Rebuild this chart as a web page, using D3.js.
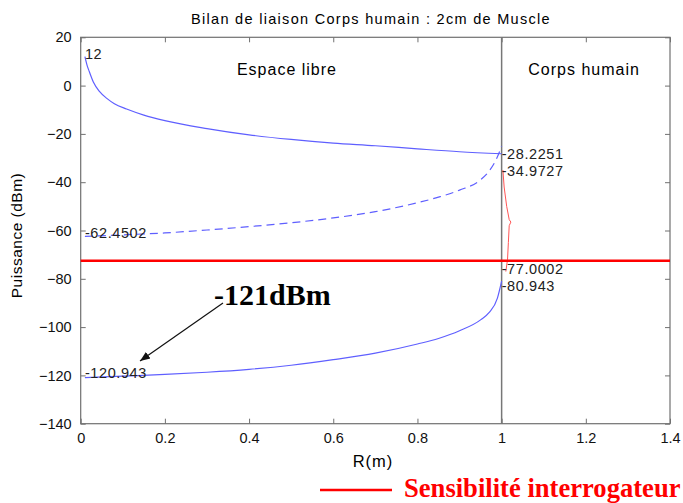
<!DOCTYPE html>
<html><head><meta charset="utf-8">
<script src="https://cdn.jsdelivr.net/npm/d3@7"></script>
<style>body{margin:0;background:#fff}svg{display:block}</style>
</head><body>
<svg id="c" width="683" height="503"></svg>
<script>
// ---- data ----
const xTicks = [0, 0.2, 0.4, 0.6, 0.8, 1, 1.2, 1.4];
const yTicks = [20, 0, -20, -40, -60, -80, -100, -120, -140];
const upperR = [0.01, 0.015, 0.02, 0.03, 0.045, 0.062, 0.08, 0.109, 0.15, 0.2, 0.3, 0.4, 0.5, 0.6, 0.7, 0.8, 0.9, 1.0];
const upperP = [12, 8.5, 6, 1.5, -2.5, -5.3, -7.5, -9.7, -12.2, -14.5, -17.8, -20.4, -22.3, -23.8, -24.9, -26.2, -27.4, -28.2251];
const dashedR = [0.01, 0.1, 0.2, 0.3, 0.4, 0.5, 0.6, 0.7, 0.8, 0.85, 0.9, 0.95, 0.97, 0.99, 1.0];
const dashedP = [-62.4502, -61.8, -61.0, -59.8, -58.4, -56.8, -54.8, -52.2, -48.5, -46.2, -43.3, -39, -35.5, -29.5, -25];
const lowerR = [0.01, 0.1, 0.2, 0.3, 0.4, 0.5, 0.6, 0.7, 0.8, 0.85, 0.9, 0.95, 0.97, 0.99, 1.0];
const lowerP = [-120.943, -120.3, -119.6, -118.7, -117.5, -115.8, -113.5, -110.8, -107, -104.7, -101.5, -97, -94, -88, -80.943];
const bodyR = [1.003, 1.006, 1.012, 1.018, 1.022, 1.018, 1.016, 1.014, 1.010];
const bodyP = [-34.9727, -42, -50, -55.5, -56.5, -58, -65, -72, -77.0002];
const sensitivity = -72.5;
const boundaryR = 1;
const pointLabels = [
  {r: 0.01, p: 12, t: "12", dy: -3},
  {r: 0.01, p: -62.4502, t: "-62.4502", dy: -3},
  {r: 0.01, p: -120.943, t: "-120.943", dy: -5},
  {r: 1.0, p: -28.2251, t: "-28.2251", dy: 0},
  {r: 1.0, p: -34.9727, t: "-34.9727", dy: 1},
  {r: 1.0, p: -77.0002, t: "-77.0002", dy: -3},
  {r: 1.0, p: -80.943, t: "-80.943", dy: 5}
];
const titleText = "Bilan de liaison Corps humain : 2cm de Muscle";

// ---- layout ----
const svg = d3.select("#c");
const L = 80.7, R = 670, T = 37.3, B = 423.7;
const x = d3.scaleLinear().domain([0, 1.4]).range([L, R]);
const y = d3.scaleLinear().domain([-140, 20]).range([B, T]);
const axisCol = "#707070";
const font = "Arial, 'Liberation Sans', sans-serif";

// frame
svg.append("rect").attr("x", L).attr("y", T).attr("width", R - L).attr("height", B - T)
  .attr("fill", "none").attr("stroke", axisCol).attr("stroke-width", 1.2);

// axes (ticks inward)
const gb = svg.append("g").attr("transform", `translate(0,${B})`)
  .call(d3.axisBottom(x).tickValues(xTicks).tickSize(-5).tickPadding(9).tickFormat(d3.format("")));
const gt = svg.append("g").attr("transform", `translate(0,${T})`)
  .call(d3.axisTop(x).tickValues(xTicks).tickSize(-5).tickFormat(""));
const gl = svg.append("g").attr("transform", `translate(${L},0)`)
  .call(d3.axisLeft(y).tickValues(yTicks).tickSize(-5).tickPadding(9));
const gr = svg.append("g").attr("transform", `translate(${R},0)`)
  .call(d3.axisRight(y).tickValues(yTicks).tickSize(-5).tickFormat(""));
[gb, gt, gl, gr].forEach(g => {
  g.select(".domain").remove();
  g.selectAll(".tick line").attr("stroke", axisCol);
  g.selectAll("text").attr("font-family", font).attr("font-size", 14.5).attr("fill", "#111");
});

// boundary line
svg.append("line").attr("x1", x(boundaryR)).attr("x2", x(boundaryR)).attr("y1", T).attr("y2", B)
  .attr("stroke", "#777").attr("stroke-width", 1.5);

const line = d3.line().x(d => x(d[0])).y(d => y(d[1])).curve(d3.curveMonotoneX);
const lineN = d3.line().x(d => x(d[0])).y(d => y(d[1])).curve(d3.curveLinear);
const blue = "#5f5fff";

svg.append("path").datum(d3.zip(upperR, upperP)).attr("d", line)
  .attr("fill", "none").attr("stroke", blue).attr("stroke-width", 1.2);
svg.append("path").datum(d3.zip(dashedR, dashedP)).attr("d", line)
  .attr("fill", "none").attr("stroke", blue).attr("stroke-width", 1.2).attr("stroke-dasharray", "8,5");
svg.append("path").datum(d3.zip(lowerR, lowerP)).attr("d", line)
  .attr("fill", "none").attr("stroke", blue).attr("stroke-width", 1.2);
svg.append("path").datum(d3.zip(bodyR, bodyP)).attr("d", lineN)
  .attr("fill", "none").attr("stroke", "#ff5555").attr("stroke-width", 1);

// sensitivity line
svg.append("line").attr("x1", L).attr("x2", R).attr("y1", y(sensitivity)).attr("y2", y(sensitivity))
  .attr("stroke", "#ff0000").attr("stroke-width", 2.5);

// point labels
svg.selectAll("text.pl").data(pointLabels).enter().append("text").attr("class", "pl")
  .attr("x", d => x(d.r)).attr("y", d => y(d.p) + d.dy)
  .attr("dominant-baseline", "central").attr("letter-spacing", 0.6)
  .attr("font-family", font).attr("font-size", 14.5).attr("fill", "#222").text(d => d.t);

// region labels
svg.append("text").attr("x", x(0.49)).attr("y", y(6.5)).attr("text-anchor", "middle")
  .attr("dominant-baseline", "central").attr("letter-spacing", 1)
  .attr("font-family", font).attr("font-size", 16).text("Espace libre");
svg.append("text").attr("x", x(1.196)).attr("y", y(6.5)).attr("text-anchor", "middle")
  .attr("dominant-baseline", "central").attr("letter-spacing", 1)
  .attr("font-family", font).attr("font-size", 16).text("Corps humain");

// title & axis labels
svg.append("text").attr("x", 371).attr("y", 24).attr("text-anchor", "middle").attr("letter-spacing", 1.3)
  .attr("font-family", font).attr("font-size", 14.5).text(titleText);
svg.append("text").attr("x", 373).attr("y", 467).attr("text-anchor", "middle").attr("letter-spacing", 1)
  .attr("font-family", font).attr("font-size", 16.5).text("R(m)");
svg.append("text").attr("transform", `translate(22,${(T + B) / 2 + 5}) rotate(-90)`).attr("text-anchor", "middle")
  .attr("letter-spacing", 0.5)
  .attr("font-family", font).attr("font-size", 15.5).text("Puissance (dBm)");

// annotation
svg.append("defs").append("marker").attr("id", "ah").attr("viewBox", "0 0 10 10")
  .attr("refX", 10).attr("refY", 5).attr("markerWidth", 10).attr("markerHeight", 10)
  .attr("markerUnits", "userSpaceOnUse").attr("orient", "auto")
  .append("path").attr("d", "M0,1 L10,5 L0,9 Z").attr("fill", "#111");
svg.append("line").attr("x1", 223).attr("y1", 303).attr("x2", 140).attr("y2", 361)
  .attr("stroke", "#111").attr("stroke-width", 1.2).attr("marker-end", "url(#ah)");
svg.append("text").attr("x", 214).attr("y", 305)
  .attr("font-family", "'Liberation Serif', 'Times New Roman', serif").attr("font-weight", "bold")
  .attr("font-size", 30).attr("fill", "#000").text("-121dBm");

// legend
svg.append("line").attr("x1", 320).attr("x2", 392).attr("y1", 490).attr("y2", 490)
  .attr("stroke", "#ff0000").attr("stroke-width", 2.5);
svg.append("text").attr("x", 404).attr("y", 497)
  .attr("font-family", "'Liberation Serif', 'Times New Roman', serif").attr("font-weight", "bold")
  .attr("font-size", 26.6).attr("fill", "#ff0000").text("Sensibilité interrogateur");
</script>
</body></html>
